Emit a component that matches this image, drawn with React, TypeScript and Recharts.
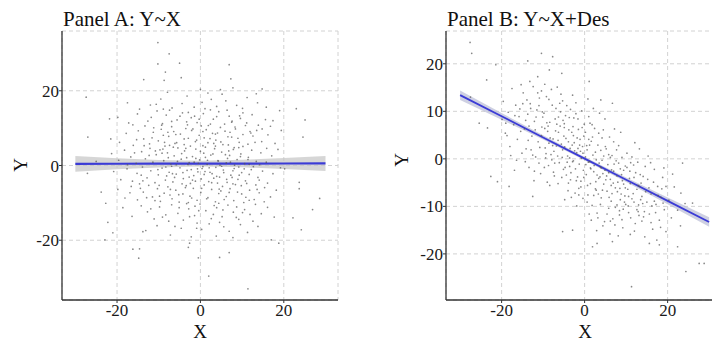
import React from "react";
import { ComposedChart, Scatter, Area, Line, XAxis, YAxis, CartesianGrid } from "recharts";

const FONT = "Liberation Serif, DejaVu Serif, serif";

// Panel A points as (x, y): sparse outer ring first, then the dense core
const outerA: [number, number][] = [
  [-10.2, 32.9], [-7.5, 29.9], [-5, 27.4], [-10.2, 27.2], [6.9, 27], [-8.4, 25], [-13.6, 23], [7.3, 23.2],
  [-27.4, 18.3], [-4.6, 23.5], [-8.7, 22.8], [0, 20.4], [4.8, 20.3], [7.8, 20.8], [14.8, 20.5], [13.4, 19.2],
  [23, 15.2], [25.1, 12.2], [24.6, 7.6], [-27, 7.6], [-21.5, 7.1], [-23.8, -7.1], [-22.7, -10.1], [-22.2, -15.2],
  [-22.9, -19.9], [-21, -18], [-16.2, -22.4], [-14.6, -22.3], [-14.8, -24.8], [-13.8, -17.7], [-2.9, -21.9],
  [-2.6, -20.8], [-0.5, -24.7], [2, -29.6], [4.6, -24.6], [6.9, -23.3], [11.4, -33], [17, -19.9], [18.8, -20.8],
  [22.2, -14], [24.2, -17.2], [26.9, -11.8], [28.6, -8.8], [23.7, -4.5], [23.7, -6.2], [20.2, -0.9], [19.4, 9.4],
  [19, 14.7], [15.8, 15.6], [17.4, 12], [-27.1, -2.1], [-25, 1.1], [-19.8, 12.9], [-21.8, 12.5], [-17.5, 16.8],
];

const coreA: [number, number][] = [
  [-12, 16.2], [-9.5, 17.8], [-6.8, 15.4], [-3.2, 18.6], [0.4, 16.9], [1.8, 19.4], [3.9, 15.8], [6.1, 17.3],
  [8.7, 16.1], [11.2, 18.2], [-14.6, 15.1], [-1.5, 15.6], [13.7, 16.8], [5.2, 19.1], [-7.9, 19.6], [2.6, 17.7], [10.1, 15.3],
  [-17.2, 11.4], [-15.1, 13.8], [-13.3, 10.6], [-11.8, 12.9], [-10.4, 14.6], [-9.1, 11.2], [-8.2, 13.5], [-6.9, 10.4],
  [-5.6, 12.2], [-4.3, 14.1], [-3.1, 10.9], [-2.2, 12.8], [-0.8, 11.5], [0.7, 13.9], [1.9, 10.7], [3.1, 12.4],
  [4.4, 14.4], [5.8, 11.1], [6.9, 13.2], [8.3, 10.3], [9.6, 12.6], [11.1, 11.4], [12.4, 13.6], [13.9, 10.8],
  [15.6, 12.3], [-12.6, 11.9], [-7.4, 14.8], [2.4, 14.9], [7.6, 11.9], [-1.4, 13.2], [10.2, 14.1], [16.8, 10.5],
  [-19.4, 6.2], [-17.8, 8.6], [-16.1, 5.4], [-14.9, 9.3], [-13.6, 7.1], [-12.2, 5.8], [-11.3, 8.9], [-10.1, 6.6],
  [-9.4, 9.7], [-8.5, 5.2], [-7.6, 7.8], [-6.4, 9.1], [-5.7, 6.1], [-4.8, 8.4], [-3.9, 5.6], [-2.9, 7.3],
  [-2.1, 9.4], [-1.2, 6.4], [-0.3, 8.1], [0.6, 5.3], [1.4, 9.6], [2.3, 7.2], [3.2, 5.9], [4.1, 8.7],
  [4.9, 6.3], [5.9, 9.2], [6.7, 5.5], [7.5, 7.6], [8.4, 9.8], [9.3, 6.2], [10.2, 8.3], [11.4, 5.7],
  [12.6, 7.9], [13.5, 9.4], [14.7, 6.4], [16.2, 8.2], [17.9, 5.9], [-15.3, 6.9], [-8.9, 8.1], [-3.5, 9.9],
  [0.9, 7.4], [3.7, 6.8], [7.1, 8.9], [11.9, 9.1], [-6.1, 5.9], [2.9, 8.6],
  [-21.3, 3.2], [-19.6, 1.4], [-18.2, 4.1], [-16.7, 2.3], [-15.4, 0.6], [-14.1, 3.7], [-13.2, 1.8], [-12.1, 4.6],
  [-11.4, 0.9], [-10.6, 2.9], [-9.7, 4.2], [-8.8, 1.3], [-7.9, 3.4], [-7.1, 0.4], [-6.3, 2.6], [-5.4, 4.7],
  [-4.6, 1.7], [-3.8, 3.9], [-2.7, 0.8], [-1.9, 2.4], [-1.1, 4.4], [-0.2, 1.5], [0.8, 3.3], [1.6, 0.3],
  [2.5, 2.8], [3.4, 4.5], [4.3, 1.2], [5.1, 3.6], [6.2, 0.7], [7.0, 2.7], [7.9, 4.3], [8.8, 1.6],
  [9.7, 3.1], [10.6, 0.5], [11.5, 2.2], [12.3, 4.1], [13.4, 1.1], [14.5, 3.4], [15.8, 0.9], [17.1, 2.6],
  [18.6, 4.3], [-17.5, 0.2], [-3.3, 2.1], [1.2, 4.9], [4.7, 0.1], [9.2, 4.8], [-9.2, 3.3], [6.5, 1.9],
  [-20.8, -1.6], [-19.1, -3.8], [-17.6, -0.9], [-16.3, -4.2], [-15.2, -2.1], [-13.9, -0.4], [-12.8, -3.3], [-11.9, -1.4],
  [-10.9, -4.6], [-10.1, -2.5], [-9.2, -0.7], [-8.4, -3.9], [-7.5, -1.8], [-6.6, -4.4], [-5.8, -2.3], [-4.9, -0.6],
  [-4.1, -3.5], [-3.2, -1.3], [-2.4, -4.8], [-1.6, -2.7], [-0.7, -0.9], [0.2, -3.6], [1.1, -1.6], [2.0, -4.3],
  [2.8, -2.2], [3.7, -0.5], [4.6, -3.1], [5.5, -1.2], [6.4, -4.5], [7.3, -2.6], [8.1, -0.8], [9.0, -3.7],
  [9.9, -1.9], [10.8, -4.1], [11.7, -2.4], [12.7, -0.3], [13.8, -3.2], [14.9, -1.5], [16.1, -4.7], [17.4, -2.2],
  [19.2, -0.6], [-14.6, -4.9], [-6.9, -0.2], [-1.9, -3.9], [3.2, -3.4], [7.8, -4.9], [12.2, -1.1], [0.6, -0.3],
  [-19.8, -6.4], [-18.1, -8.7], [-16.6, -5.6], [-15.1, -9.2], [-13.7, -7.1], [-12.4, -5.3], [-11.5, -8.4], [-10.3, -6.2],
  [-9.6, -9.6], [-8.7, -7.4], [-7.8, -5.7], [-6.8, -8.9], [-5.9, -6.6], [-5.1, -9.8], [-4.2, -7.6], [-3.4, -5.4],
  [-2.5, -8.2], [-1.7, -6.1], [-0.8, -9.3], [0.1, -7.2], [0.9, -5.2], [1.8, -8.6], [2.7, -6.4], [3.6, -9.7],
  [4.4, -7.5], [5.3, -5.6], [6.2, -8.3], [7.1, -6.2], [8.0, -9.4], [8.9, -7.1], [9.8, -5.4], [10.9, -8.5],
  [11.8, -6.6], [12.9, -9.1], [14.1, -7.3], [15.4, -5.9], [16.8, -8.4], [18.2, -6.6], [-14.4, -6.1], [-2.9, -9.9],
  [4.9, -6.8], [13.3, -5.2], [-7.3, -7.9], [10.4, -9.9],
  [-18.6, -11.3], [-16.4, -13.6], [-14.2, -10.8], [-12.7, -12.4], [-11.1, -14.3], [-9.8, -11.1], [-8.3, -13.2], [-6.9, -10.5],
  [-5.4, -12.8], [-4.1, -14.6], [-2.8, -11.6], [-1.4, -13.4], [-0.1, -10.3], [1.3, -12.1], [2.6, -14.2], [3.9, -11.3],
  [5.2, -13.7], [6.6, -10.6], [7.9, -12.5], [9.2, -14.4], [10.6, -11.8], [11.9, -13.1], [13.2, -10.4], [14.6, -12.9],
  [16.1, -11.2], [17.7, -13.8], [-7.6, -14.9], [4.4, -10.1], [12.6, -14.9], [-3.3, -10.2],
  [-13.1, -17.4], [-10.4, -16.1], [-7.2, -18.6], [-4.6, -16.8], [-2.2, -19.1], [0.3, -17.1], [2.1, -15.6], [3.8, -18.9],
  [5.6, -16.4], [7.8, -19.3], [9.6, -15.8], [11.3, -17.9], [13.8, -16.3], [-0.8, -15.4], [6.9, -17.6],
];

// second pass over the densest middle of panel A
const centreA: [number, number][] = [
  [-11.6, 7.4], [-10.8, 3.9], [-10.2, -1.1], [-9.9, -5.3], [-9.3, 10.8], [-8.6, 6.2], [-8.1, -2.8], [-7.7, 2.1],
  [-7.2, -6.4], [-6.9, 11.8], [-6.5, 4.9], [-6.2, -3.2], [-5.9, 8.3], [-5.5, 1.1], [-5.2, -7.8], [-4.9, 13.2],
  [-4.5, 3.2], [-4.2, -1.9], [-3.9, 7.1], [-3.6, -5.9], [-3.3, 11.7], [-3.0, 0.3], [-2.7, -3.1], [-2.4, 5.2],
  [-2.1, -8.7], [-1.8, 9.8], [-1.5, 0.9], [-1.2, -4.2], [-0.9, 6.8], [-0.6, -1.7], [-0.3, 12.4], [0.0, 3.8],
  [0.3, -6.1], [0.6, 9.1], [0.9, -2.4], [1.2, 2.2], [1.5, -8.9], [1.8, 6.1], [2.1, -0.6], [2.4, 11.1],
  [2.7, -4.6], [3.0, 3.1], [3.3, -10.7], [3.6, 8.4], [3.9, -2.9], [4.2, 1.3], [4.5, -6.3], [4.8, 10.2],
  [5.1, -0.2], [5.4, 5.6], [5.7, -9.1], [6.0, 2.9], [6.3, -3.7], [6.6, 7.7], [6.9, -7.2], [7.2, 0.9],
  [7.5, 11.6], [7.8, -1.4], [8.1, 4.8], [8.4, -5.1], [8.7, -11.1], [9.0, 7.3], [9.3, -2.6], [9.6, 2.4],
  [9.9, -7.6], [10.2, 5.1], [10.5, -0.9], [10.8, 10.7], [11.1, -4.8], [11.4, 1.6], [11.7, -9.3], [-12.9, -8.6],
  [-12.3, 2.7], [-11.9, -11.6], [-13.5, 5.3], [-14.2, -2.6], [-15.8, 3.4], [-16.9, -7.3], [-16.2, 10.9], [13.1, 6.2],
  [13.6, -6.4], [14.2, 0.2], [14.8, 9.8], [15.3, -9.7], [15.9, 4.6], [-10.6, 16.4], [-4.4, 16.6], [1.1, 15.2],
  [6.4, 14.8], [-2.6, -13.7], [3.1, -13.1], [8.6, -13.9], [-9.1, -13.8], [-6.1, -16.3], [-0.4, -12.1], [11.7, 0.3],
  [-0.5, 0.6], [0.4, -0.8], [-1.1, 1.9], [1.7, 1.4], [-2.2, -1.1], [2.3, -1.8], [-3.5, 4.6], [3.6, 5.2],
  [-4.4, -4.9], [4.1, -4.7], [-5.8, 0.2], [5.6, -1.9], [-6.7, -2.2], [6.8, 3.9], [-7.4, 5.4], [7.6, -3.2],
  [-8.3, -0.4], [8.2, 0.1], [-9.0, 4.4], [9.2, -0.4], [-9.8, -8.2], [-11.2, 10.1], [10.1, -12.6], [-1.3, -10.9],
  [0.2, 10.6], [-5.1, -11.3], [5.4, -11.9], [-7.8, 8.9], [12.1, 8.7], [-13.8, -4.1], [-2.9, 14.2], [3.9, 13.1],
  [-8.9, 15.1], [9.4, 13.3], [-0.9, -16.8], [4.6, -15.2], [-10.9, -9.4], [14.1, -3.9],
];

// Panel B points as (x, y)
const outerB: [number, number][] = [
  [-27.6, 24.5], [-27.2, 22.2], [-23.6, 16.6], [-21.4, 19.8], [-13.7, 20.6], [-10.4, 22.2], [-7.7, 21.5], [-8.5, 18.7],
  [-5.5, 18], [-11.3, 17.3], [1.1, 16.3], [3.9, 12.4], [6.7, 11.7], [-22.6, -3.7], [-21, -4.8], [-18.2, -5.8],
  [-12.5, -7.9], [-5.3, -15.3], [-2.9, -15], [1.9, -18.5], [3, -17.8], [6.7, -17.4], [11.3, -26.9], [15.6, -17.8],
  [18, -18.1], [22.4, -18.5], [24.4, -23.7], [27.6, -22], [28.8, -22], [23.2, -7.2], [26, -9.3], [23.6, -0.9],
  [19.6, -5.8], [-27.5, 13], [-25.4, 7.5], [-23.4, 6.5], [-19, 7.5],
];

const coreB: [number, number][] = [
  [-19.6, 12.1], [-19.1, 5.4], [-18.4, 9.8], [-18.0, 2.6], [-17.5, 14.8], [-17.1, 7.2], [-16.6, 11.3], [-16.2, 4.1],
  [-15.8, 8.9], [-15.3, 15.6], [-15.1, 1.2], [-19.9, 8.3], [-16.9, -2.4], [-17.8, 0.7], [-15.6, 10.5],
  [-14.8, 13.9], [-14.5, 6.3], [-14.1, 2.1], [-13.7, 9.4], [-13.4, -1.8], [-13.1, 11.6], [-12.7, 4.8], [-12.4, 15.2],
  [-12.1, 7.9], [-11.8, 0.4], [-11.5, 10.3], [-11.2, 3.6], [-10.9, 12.8], [-10.6, -3.1], [-10.3, 6.7], [-10.1, 8.8],
  [-14.3, -0.6], [-12.9, 1.9], [-11.0, -0.9], [-13.9, 12.4], [-12.2, -4.6], [-10.4, 14.3],
  [-9.8, 9.6], [-9.5, 2.3], [-9.2, 13.1], [-8.9, 5.8], [-8.7, -1.4], [-8.4, 7.7], [-8.1, 0.9], [-7.8, 11.3],
  [-7.6, 4.2], [-7.3, -3.6], [-7.1, 8.4], [-6.8, 2.7], [-6.6, 15.1], [-6.3, 5.6], [-6.1, -0.8], [-5.8, 9.9],
  [-5.6, 3.1], [-5.3, 12.2], [-5.1, -2.2], [-9.6, 6.4], [-9.0, -4.9], [-8.3, 4.4], [-7.4, 1.6], [-6.9, 10.6],
  [-6.4, -5.2], [-5.9, 6.9], [-5.4, 0.3], [-8.6, 12.5], [-7.9, -0.2], [-5.2, 8.1], [-9.3, 1.1], [-6.7, 7.3],
  [-4.9, 7.4], [-4.7, -1.8], [-4.5, 4.3], [-4.3, 11.2], [-4.1, 0.6], [-3.9, -5.1], [-3.7, 8.7], [-3.5, 2.2],
  [-3.3, -2.9], [-3.1, 5.6], [-2.9, 13.4], [-2.7, -0.4], [-2.5, 3.4], [-2.3, -7.2], [-2.1, 9.5], [-1.9, 1.3],
  [-1.7, -3.8], [-1.5, 6.2], [-1.3, -1.1], [-1.1, 4.1], [-0.9, -5.9], [-0.7, 10.1], [-0.5, 2.6], [-0.3, -2.4],
  [-0.1, 7.3], [-4.4, -3.4], [-3.6, 0.2], [-2.8, 6.8], [-2.0, -4.6], [-1.2, 2.9], [-0.4, -8.3], [-4.8, 2.5],
  [-3.2, -8.1], [-1.6, 8.4], [-0.8, 0.1], [-2.4, 1.7], [-4.0, -6.7], [-0.2, 4.8], [-3.4, 10.4], [-1.4, -6.2],
  [0.2, 5.6], [0.4, -3.3], [0.6, 1.9], [0.8, -7.6], [1.0, 8.9], [1.2, -0.6], [1.4, -5.2], [1.6, 3.7],
  [1.8, -9.8], [2.0, 0.8], [2.2, -2.7], [2.4, 6.4], [2.6, -6.3], [2.8, -0.2], [3.0, -11.4], [3.2, 2.9],
  [3.4, -4.1], [3.6, 9.6], [3.8, -1.7], [4.0, -8.2], [4.2, 4.4], [4.4, -3.1], [4.6, 0.6], [4.8, -13.2],
  [0.3, -1.2], [1.1, -11.6], [1.9, 4.6], [2.7, -4.8], [3.5, -0.9], [4.3, -6.6], [0.7, -5.6], [2.1, 10.6],
  [3.9, 1.8], [4.9, -2.4], [1.5, -2.1], [3.3, -7.4], [0.5, 2.8], [2.9, -15.1], [4.5, 6.1], [1.3, 7.5],
  [5.2, 2.1], [5.4, -6.8], [5.6, -1.2], [5.8, -10.4], [6.0, 4.6], [6.2, -4.3], [6.4, -8.9], [6.6, 0.7],
  [6.8, -12.6], [7.0, -2.6], [7.2, 6.3], [7.4, -6.1], [7.6, -0.4], [7.8, -9.7], [8.0, -4.9], [8.2, 2.8],
  [8.4, -11.8], [8.6, -2.1], [8.8, -7.4], [9.0, 0.3], [9.2, -14.5], [9.4, -5.3], [9.6, -9.1], [9.8, -1.5],
  [5.3, -3.6], [6.1, -15.8], [6.9, -5.1], [7.7, 1.9], [8.5, -6.2], [9.3, -10.6], [5.9, -8.1], [7.3, -13.9],
  [8.9, -3.3], [9.7, -7.8], [6.5, -2.3], [8.1, -16.2],
  [10.2, -1.8], [10.5, -9.9], [10.8, -4.1], [11.1, -12.4], [11.4, 0.4], [11.7, -7.3], [12.0, -15.2], [12.3, -2.9],
  [12.6, -10.7], [12.9, -5.6], [13.2, 2.1], [13.5, -8.6], [13.8, -13.1], [14.1, -3.7], [14.4, -11.1], [14.7, -6.9],
  [10.4, -6.4], [11.0, -15.9], [11.9, -9.1], [12.8, -0.7], [13.6, -5.1], [14.5, -16.4], [10.9, -2.6], [13.1, -11.9],
  [15.2, -4.3], [15.6, -11.6], [16.0, -7.4], [16.4, -14.8], [16.8, -2.2], [17.2, -9.6], [17.6, -5.8], [18.0, -12.9],
  [18.4, -8.1], [18.8, -3.9], [19.2, -10.7], [19.6, -15.3], [15.9, -0.8], [17.4, -17.1], [18.6, -6.3], [16.2, -9.9],
  [20.3, -8.7], [20.9, -12.4], [21.6, -5.9], [22.4, -10.8], [23.1, -14.1], [21.2, -3.2], [24.2, -9.4],
];

// second pass along the band of panel B
const centreB: [number, number][] = [
  [-14.2, 8.1], [-13.6, 3.9], [-13.0, 10.6], [-12.5, 0.8], [-11.9, 6.1], [-11.3, 13.9], [-10.8, 2.4], [-10.2, 9.9],
  [-9.7, -1.8], [-9.1, 7.6], [-8.6, 3.3], [-8.0, 14.6], [-7.5, -2.8], [-7.0, 5.9], [-6.5, 0.6], [-6.0, 11.7],
  [-5.5, -3.9], [-5.0, 4.8], [-4.6, 9.1], [-4.2, -0.7], [-3.8, 6.1], [-3.4, -4.4], [-3.0, 2.9], [-2.6, 8.6],
  [-2.2, -2.1], [-1.8, 4.4], [-1.4, -7.6], [-1.0, 1.6], [-0.6, 6.6], [-0.2, -3.9], [0.2, 0.4], [0.6, -9.1],
  [1.0, 4.1], [1.4, -1.9], [1.8, 7.2], [2.2, -7.7], [2.6, 1.4], [3.0, -3.4], [3.4, 5.4], [3.8, -9.6],
  [4.2, -0.3], [4.6, -5.3], [5.0, 2.6], [5.4, -11.6], [5.8, -2.9], [6.2, 0.3], [6.6, -7.3], [7.0, 3.6],
  [7.4, -10.2], [7.8, -3.6], [8.2, -0.9], [8.6, -8.6], [9.0, -12.8], [9.4, -2.4], [9.8, -6.1], [10.2, 1.2],
  [10.6, -11.3], [11.0, -5.2], [11.4, -8.4], [11.8, -1.3], [12.2, -13.6], [12.6, -6.4], [13.0, -9.7], [13.4, -3.3],
  [13.8, -7.9], [14.2, -12.2], [14.6, -1.6], [15.0, -9.1], [15.5, -6.1], [16.0, -13.4], [16.6, -4.9], [17.1, -11.3],
  [17.7, -7.7], [18.3, -14.4], [18.9, -9.3], [-12.1, -2.6], [-8.4, -5.6], [-4.8, -8.6], [-1.9, -9.9], [1.6, -12.9],
  [4.4, -14.1], [-15.4, 5.8], [-16.4, -0.3], [-18.7, 4.9], [-13.2, 16.3], [-9.6, 15.7], [-5.7, 13.6], [-2.1, 11.8],
  [0.8, 12.6], [4.9, 8.4], [8.7, 5.6], [12.1, 3.4], [15.3, 0.6], [19.1, -1.9], [-0.4, 1.2], [0.9, -0.7],
  [-1.6, 2.2], [2.3, -1.4], [-2.9, -0.6], [3.7, -3.8], [-3.9, 3.6], [5.1, -4.4], [-5.3, 1.9], [6.4, -5.6],
  [-6.4, 3.9], [7.9, -6.9], [-7.7, 2.8], [9.1, -4.6], [-8.8, 6.9], [10.6, -7.9], [-10.4, 4.9], [11.9, -3.9],
  [-11.7, 8.8], [13.2, -5.8], [-0.9, -4.7], [1.2, 2.9], [2.8, -6.6], [-2.7, 4.9], [4.0, -1.9], [-3.6, -1.6],
  [5.8, 0.9], [-4.9, 6.6], [7.1, -1.1], [-6.3, 8.8], [8.4, -10.9], [-7.2, -0.9], [9.9, -9.6], [-9.4, 0.2],
  [11.1, -0.8], [-11.0, 11.2], [12.9, -11.1], [-13.4, 6.9], [14.0, -9.4], [-14.9, 11.6], [16.8, -8.9], [-16.8, 9.1],
  [3.2, -12.4], [6.2, -13.1],
];

// fitted line and confidence half-width, read at these x positions
const fitX = [-30, -20, -10, 0, 10, 20, 30];
const fitA = [0.45, 0.47, 0.49, 0.5, 0.52, 0.54, 0.56];
const halfA = [2.1, 1.5, 1.0, 0.8, 1.0, 1.5, 2.0];
const fitB = [13.4, 8.95, 4.5, 0.05, -4.4, -8.85, -13.3];
const halfB = [1.0, 0.7, 0.45, 0.35, 0.45, 0.7, 1.0];

const xTicks = [-20, 0, 20];
const yTicksA = [-20, 0, 20];
const yTicksB = [-20, -10, 0, 10, 20];

const toPoints = (pairs: [number, number][]) => pairs.map(([x, y]) => ({ x, y }));
const toBand = (fit: number[], half: number[]) =>
  fitX.map((x, i) => ({ x, fit: fit[i], band: [fit[i] - half[i], fit[i] + half[i]] }));

const Dot = (props: any) => (
  <circle cx={props.cx} cy={props.cy} r={0.85} fill="#555" fillOpacity={0.7} />
);

const tickStyle = { fontFamily: FONT, fontSize: 17, fill: "#1a1a1a" };

interface PanelProps {
  points: { x: number; y: number }[];
  band: { x: number; fit: number; band: number[] }[];
  xDomain: [number, number];
  yDomain: [number, number];
  yTicks: number[];
  bandColor: string;
  lineWidth: number;
}

const Panel: React.FC<PanelProps> = ({ points, band, xDomain, yDomain, yTicks, bandColor, lineWidth }) => (
  <ComposedChart width={350} height={341} data={band} margin={{ top: 31, right: 12, bottom: 0, left: 0 }}>
    <CartesianGrid strokeDasharray="4 3" stroke="#d2d2d2" />
    <XAxis
      type="number"
      dataKey="x"
      domain={xDomain}
      ticks={xTicks}
      allowDataOverflow
      height={41}
      tick={tickStyle}
      tickSize={3}
      tickMargin={1}
      axisLine={{ stroke: "#333", strokeWidth: 1.3 }}
      tickLine={{ stroke: "#333" }}
    />
    <YAxis
      type="number"
      domain={yDomain}
      ticks={yTicks}
      allowDataOverflow
      width={62}
      tick={tickStyle}
      tickSize={3}
      tickMargin={0}
      axisLine={{ stroke: "#333", strokeWidth: 1.3 }}
      tickLine={{ stroke: "#333" }}
    />
    <Scatter data={points} dataKey="y" shape={Dot} isAnimationActive={false} />
    <Area dataKey="band" type="linear" stroke="none" fill={bandColor} fillOpacity={0.7} isAnimationActive={false} />
    <Line dataKey="fit" type="linear" stroke="#3b3bd6" strokeWidth={lineWidth} dot={false} isAnimationActive={false} />
  </ComposedChart>
);

const textBase: React.CSSProperties = { position: "absolute", fontFamily: FONT, lineHeight: 1, color: "#111", whiteSpace: "nowrap" };

const Label = ({ x, y, text, size, rotate }: { x: number; y: number; text: string; size: number; rotate?: boolean }) => (
  <div
    style={{
      ...textBase,
      left: x,
      top: y,
      fontSize: size,
      transform: `translate(-50%, -50%)${rotate ? " rotate(-90deg)" : ""}`,
    }}
  >
    {text}
  </div>
);

export default function App() {
  const pointsA = toPoints([...outerA, ...coreA, ...centreA]);
  const pointsB = toPoints([...outerB, ...coreB, ...centreB]);
  return (
    <div style={{ position: "absolute", left: 0, top: 0, width: 712, height: 341, overflow: "hidden", background: "#fff" }}>
      <div style={{ position: "absolute", left: 0, top: 0 }}>
        <Panel points={pointsA} band={toBand(fitA, halfA)} xDomain={[-33.2, 33]} yDomain={[-36, 36]} yTicks={yTicksA} bandColor="#c4c4c4" lineWidth={2.2} />
      </div>
      <div style={{ position: "absolute", left: 384, top: 0 }}>
        <Panel points={pointsB} band={toBand(fitB, halfB)} xDomain={[-33.4, 33.1]} yDomain={[-29.7, 26.9]} yTicks={yTicksB} bandColor="#b9bcd6" lineWidth={1.8} />
      </div>
      <div style={{ ...textBase, left: 63, top: 9, fontSize: 21 }}>Panel A: Y~X</div>
      <div style={{ ...textBase, left: 447, top: 9, fontSize: 21 }}>Panel B: Y~X+Des</div>
      <Label x={20} y={165} text="Y" size={19} rotate />
      <Label x={401} y={160} text="Y" size={19} rotate />
      <Label x={200} y={331} text="X" size={19} />
      <Label x={585} y={331} text="X" size={19} />
    </div>
  );
}
